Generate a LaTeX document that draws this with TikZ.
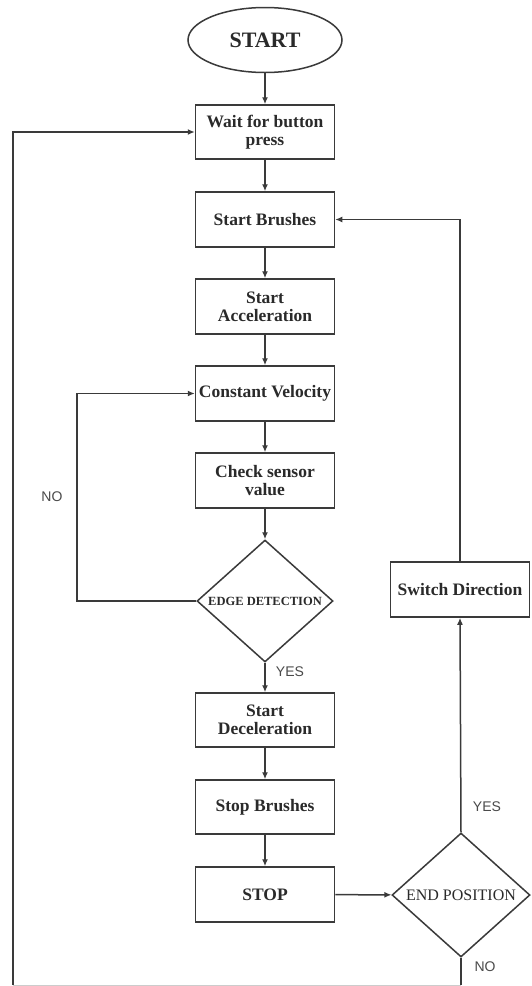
\documentclass[tikz,border=0pt]{standalone}
\usepackage{fontspec}
\setmainfont{Liberation Serif}
\newfontfamily\labelfont{Liberation Sans}
\usetikzlibrary{shapes.geometric,arrows.meta}
\definecolor{ln}{HTML}{3A3A3A}
\definecolor{tx}{HTML}{2A2A2A}
\definecolor{lb}{HTML}{4A4A4A}
\tikzset{
  box/.style={draw=ln, line width=1.5pt, rectangle, minimum width=139pt, minimum height=55pt,
    inner sep=0pt, align=center, text=tx, font=\fontsize{17.5}{18}\selectfont\bfseries},
  dia/.style={draw=ln, line width=1.5pt, diamond, inner sep=0pt, align=center, text=tx},
  conn/.style={draw=ln, line width=1.5pt, -{Latex[length=7pt,width=6pt]}},
  plain/.style={draw=ln, line width=1.5pt},
  lab/.style={text=lb, font=\labelfont\fontsize{14}{15}\selectfont, inner sep=0pt}
}
\begin{document}
\begin{tikzpicture}[x=1pt,y=-1pt]
\useasboundingbox (0,0) rectangle (532,986);
\fill[white] (0,0) rectangle (532,986);
\clip (0,0) rectangle (532,986);

\node[ellipse, draw=ln, line width=1.5pt, minimum width=154pt, minimum height=65pt, inner sep=0pt,
  text=tx, font=\fontsize{22}{24}\selectfont\bfseries] (start) at (265,40) {START};
\node[box, minimum height=54pt] (wait) at (265,132) {Wait for button\\press};
\node[box] (brush) at (265,219.5) {Start Brushes};
\node[box] (acc) at (265,306.5) {Start\\Acceleration};
\node[box] (vel) at (265,393.5) {Constant Velocity};
\node[box] (check) at (265,480.5) {Check sensor\\value};
\node[dia, minimum width=136pt, minimum height=118pt, font=\fontsize{12.5}{13}\selectfont\bfseries] (edge) at (265,601) {EDGE DETECTION};
\node[box, minimum height=54pt] (dec) at (265,720) {Start\\Deceleration};
\node[box, minimum height=54pt] (sbrush) at (265,807) {Stop Brushes};
\node[box] (stop) at (265,894.5) {STOP};
\node[dia, minimum width=138pt, minimum height=124pt, font=\fontsize{16}{17}\selectfont] (endp) at (461,895) {END POSITION};
\node[box] (switch) at (460,589.5) {Switch Direction};

\coordinate (nol) at (77,601);
\coordinate (nou) at (77,393.5);
\coordinate (swu) at (460,219.5);
\coordinate (br) at (461,985);
\coordinate (bl) at (13,985);
\coordinate (tl) at (13,132);

\draw[conn] (start) -- (wait);
\draw[conn] (wait) -- (brush);
\draw[conn] (brush) -- (acc);
\draw[conn] (acc) -- (vel);
\draw[conn] (vel) -- (check);
\draw[conn] (check) -- (edge);
\draw[conn] (edge) -- (dec);
\draw[conn] (dec) -- (sbrush);
\draw[conn] (sbrush) -- (stop);
\draw[conn] (stop) -- (endp);
\draw[conn] (endp.north) -- (switch.south);
\draw[conn] (switch.north) -- (swu) -- (brush.east);
\draw[conn] (edge.west) -- (nol) -- (nou) -- (vel.west);
\draw[plain] (endp.south) -- (br);
\draw[draw=black!20, line width=1pt] (br) -- (bl);
\draw[conn] (bl) -- (tl) -- (wait.west);

\node[lab] (noA) at (52,497) {NO};
\node[lab] (yesA) at (290,672) {YES};
\node[lab] (yesB) at (487,807) {YES};
\node[lab] (noB) at (485,967) {NO};
\end{tikzpicture}
\end{document}
